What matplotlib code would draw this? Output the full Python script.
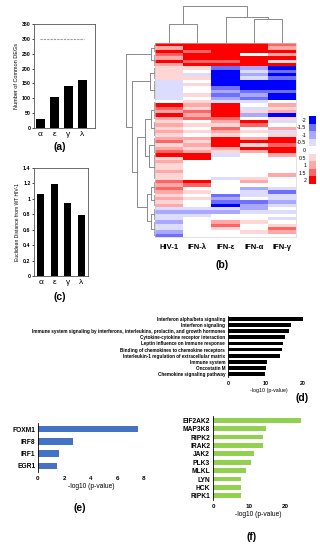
import numpy as np
import matplotlib
matplotlib.use("Agg")
import matplotlib.pyplot as plt
from matplotlib.colors import ListedColormap, BoundaryNorm

plt.rcParams['font.family'] = ['Liberation Sans', 'DejaVu Sans']
plt.rcParams['font.weight'] = 'bold'

# ---- data ----
greek = ['α', 'ε', 'γ', 'λ']
common_degs = [30, 105, 142, 163]
degs_total = 300
eucl_dist = [1.06, 1.19, 0.95, 0.79]

hm_cols = ['HIV-1', 'IFN-λ', 'IFN-ε', 'IFN-α', 'IFN-γ']
# z-scores, rows top to bottom
hm_vals = np.array([
    [2, 2, 2, 2, 1.5], [1, 2, 2, 2, 1], [2, 1.5, 2, 2, 2], [1.5, 2, 2, 0, 1],
    [1, 2, 2, 2, 2], [2, 1.5, 1.5, 2, 0.5], [1, 2, 2, 2, 2],
    [0.5, 0.5, -1.5, -1, -2], [0.5, 0, -2, -0.5, -1.5], [0.5, -0.5, -2, -1, -2],
    [0.5, 0.5, -2, -0.5, -1.5], [-0.5, 0, -2, -2, -2], [-0.5, 0.5, -2, -2, -2],
    [-0.5, 0, -1.5, -2, -2], [-0.5, 0, -1, -1.5, -1.5], [-0.5, 0.5, -1.5, -1, -2],
    [-0.5, 0, -1, -1.5, -2],
    [0, 0.5, -0.5, -0.5, 0], [2, 1, 2, 0, 1], [1.5, 0.5, 2, -0.5, 0.5],
    [1, 1.5, 2, 0.5, 1], [2, 1, 2, -1, -2], [1, 1.5, 1.5, 0, 0.5],
    [0.5, 0, 1, 2, -0.5], [1, 0.5, 0.5, 1.5, 0], [0.5, 0, 1.5, 0, 1],
    [1, 0.5, 1, 0.5, -0.5], [0.5, 0, 0.5, 0, 0.5],
    [1, 1, 2, 1, 2], [1.5, 0.5, 2, 2, 2], [0.5, 1, 2, 0.5, 1.5],
    [1, 0.5, 1, 2, 2], [1.5, 1, 0.5, 1, 2],
    [2, 2, -0.5, 0, 1], [0.5, 2, 0, 0, 0], [1, 0, 0, 0, 0], [0.5, 0, 0, 0, 0],
    [0.5, 0, 0, 0, 0], [1, 0, 0, 0, 0], [0.5, 0, 0, 0, 1], [0.5, 0, -0.5, 0.5, 0],
    [1.5, 2, 0, 1, 0], [1, 1.5, 0, 0, 0], [1.5, 0, 0, -1, -0.5],
    [1, 0.5, 0, -0.5, -1.5], [0.5, 0, -1.5, -0.5, -0.5], [1, 0.5, -1, 0, -0.5],
    [0.5, 0, -1.5, -1.5, -1], [1, 0, -2, -1, -0.5],
    [-0.5, -0.5, -0.5, -1, 0], [-1, -1, -1, -0.5, -0.5], [-0.5, -0.5, 0, 0, 0],
    [-0.5, 0, 0, 0, -0.5], [-1, 0, 1, 0.5, 0], [-0.5, 0, 1.5, 0, 0.5],
    [-0.5, 0, 0.5, 0, 1.5], [-1, 0, 0, 0.5, 1], [-1.5, 0, 0, 0, 0],
])
cbar_levels = [-2, -1.5, -1, -0.5, 0, 0.5, 1, 1.5, 2]
cbar_colors = ['#0000ff', '#6f6fff', '#a8a8ff', '#dcdcff', '#ffffff',
               '#ffd6d6', '#ffa8a8', '#ff6464', '#ff0000']

# dendrograms: (height, left, right); int = column leaf, [a, b] = block of rows
col_tree = (1.0, (0.51, 0, 1), (0.70, 2, (0.65, 3, 4)))
row_tree = (1.0, (0.12, [0, 3], [3, 7]),
            (0.78, (0.18, [7, 11], [11, 17]),
             (0.62, (0.35, (0.15, [17, 23], [23, 28]), (0.2, [28, 33], [33, 41])),
              (0.28, (0.14, [41, 45], [45, 49]), (0.12, [49, 53], [53, 58])))))

pathways = ['Interferon alpha/beta signaling', 'Interferon signaling',
            'Immune system signaling by interferons, interleukins, prolactin, and growth hormones',
            'Cytokine-cytokine receptor interaction', 'Leptin influence on immune response',
            'Binding of chemokines to chemokine receptors',
            'Interleukin-1 regulation of extracellular matrix', 'Immune system',
            'Oncostatin M', 'Chemokine signaling pathway']
pathway_p = [20.2, 16.8, 16.3, 15.2, 14.8, 14.6, 14.0, 10.5, 10.3, 10.0]

tfs = ['FOXM1', 'IRF8', 'IRF1', 'EGR1']
tf_p = [7.55, 2.67, 1.55, 1.43]

kinases = ['EIF2AK2', 'MAP3K8', 'RIPK2', 'IRAK2', 'JAK2', 'PLK3', 'MLKL', 'LYN', 'HCK', 'RIPK1']
kinase_p = [24.5, 14.6, 13.8, 13.8, 11.4, 10.5, 9.1, 7.8, 7.8, 7.8]

W, H = 320, 550
fig = plt.figure(figsize=(3.2, 5.5), dpi=100)


def box(l, t, r, b):
    return [l / W, 1 - b / H, (r - l) / W, (b - t) / H]


def label(x, y, s):
    fig.text(x / W, 1 - y / H, s, ha='center', va='center', fontsize=7.5, fontweight='bold')


# ---- (a) ----
ax = fig.add_axes(box(34, 24, 95, 128))
ax.bar(range(4), common_degs, width=0.62, color='black')
ax.plot([-0.05, 3.15], [degs_total, degs_total], ls=(0, (2, 1)), color='#999999', lw=0.8)
ax.set_xlim(-0.45, 3.9)
ax.set_ylim(0, 350)
ax.set_yticks(range(0, 351, 50))
ax.set_xticks(range(4))
ax.set_xticklabels(greek, fontsize=6, fontweight='normal')
ax.tick_params(axis='y', labelsize=3.8, length=1.5, width=0.5, pad=1)
ax.tick_params(axis='x', length=0, pad=2)
ax.set_ylabel('Number of Common DEGs', fontsize=4, labelpad=2)
for s in ax.spines.values():
    s.set_linewidth(0.6)
    s.set_color('#555555')
label(60, 147, '(a)')

# ---- (c) ----
ax = fig.add_axes(box(34, 168, 88, 276))
ax.bar(range(4), eucl_dist, width=0.55, color='black')
ax.set_xlim(-0.5, 3.5)
ax.set_ylim(0, 1.4)
ax.set_yticks(np.arange(0, 1.41, 0.2))
ax.set_yticklabels(['0', '0.2', '0.4', '0.6', '0.8', '1', '1.2', '1.4'])
ax.set_xticks(range(4))
ax.set_xticklabels(greek, fontsize=6, fontweight='normal')
ax.tick_params(axis='y', labelsize=3.8, length=1.5, width=0.5, pad=1)
ax.tick_params(axis='x', length=0, pad=2)
ax.set_ylabel('Euclidean Distance from WT HIV-1', fontsize=3.6, labelpad=2)
for s in ax.spines.values():
    s.set_linewidth(0.6)
    s.set_color('#555555')
label(60, 297, '(c)')

# ---- (b) heatmap ----
cmap = ListedColormap(cbar_colors)
bounds = np.arange(-2.25, 2.26, 0.5)
norm = BoundaryNorm(bounds, cmap.N)
nrow = hm_vals.shape[0]

ax = fig.add_axes(box(155, 43, 296, 237))
ax.imshow(hm_vals, cmap=cmap, norm=norm, aspect='auto', interpolation='nearest',
          extent=(0, 5, nrow, 0))
ax.set_xticks(np.arange(5) + 0.5)
ax.set_xticklabels(hm_cols, fontsize=5.5)
ax.set_yticks([])
ax.tick_params(axis='x', length=0, pad=5)
for s in ax.spines.values():
    s.set_linewidth(0.4)
    s.set_color('#cccccc')
label(222, 265, '(b)')

dcol = '#8a8a8a'


def draw_tree(a, node, vertical):
    # returns (position, height)
    if isinstance(node, int):
        return node + 0.5, 0.0
    if isinstance(node, list):
        lo, hi = node
        hl = 0.05
        for r in range(lo, hi):
            a.plot([0, hl], [r + 0.5, r + 0.5], color=dcol, lw=0.4)
        a.plot([hl, hl], [lo + 0.5, hi - 0.5], color=dcol, lw=0.5)
        return (lo + hi) / 2, hl
    h, left, right = node
    p1, h1 = draw_tree(a, left, vertical)
    p2, h2 = draw_tree(a, right, vertical)
    xs = [p1, p1, p2, p2]
    ys = [h1, h, h, h2]
    if vertical:
        a.plot(xs, ys, color=dcol, lw=0.7)
    else:
        a.plot(ys, xs, color=dcol, lw=0.7)
    return (p1 + p2) / 2, h


ax = fig.add_axes(box(155, 5, 296, 43))
draw_tree(ax, col_tree, True)
ax.set_xlim(0, 5)
ax.set_ylim(0, 1.02)
ax.axis('off')

ax = fig.add_axes(box(125, 43, 155, 237))
draw_tree(ax, row_tree, False)
ax.set_xlim(1.02, 0)
ax.set_ylim(nrow, 0)
ax.axis('off')

# colorbar
ax = fig.add_axes(box(309, 116, 316, 184))
ax.imshow(np.array(cbar_levels).reshape(-1, 1), cmap=cmap, norm=norm, aspect='auto',
          extent=(0, 1, len(cbar_levels), 0))
ax.set_xticks([])
ax.set_yticks(np.arange(len(cbar_levels)) + 0.5)
ax.set_yticklabels([('%g' % v) for v in cbar_levels], fontsize=3.8, fontweight='normal')
ax.tick_params(axis='y', length=0, pad=2)
for s in ax.spines.values():
    s.set_visible(False)

# ---- (d) ----
ax = fig.add_axes(box(228, 316, 310, 377))
y = np.arange(len(pathways))
ax.barh(y, pathway_p, height=0.62, color='black')
ax.set_ylim(len(pathways) - 0.5, -0.5)
ax.set_xlim(0, 22)
ax.set_yticks(y)
ax.set_yticklabels(pathways, fontsize=3.3)
ax.set_xticks([0, 10, 20])
ax.tick_params(axis='x', labelsize=3.8, length=0, pad=3)
ax.tick_params(axis='y', length=0, pad=2)
ax.set_xlabel('-log10 (p-value)', fontsize=3.8, labelpad=1)
for k in ['top', 'right', 'bottom']:
    ax.spines[k].set_visible(False)
ax.spines['left'].set_linewidth(0.6)
label(302, 398, '(d)')

# ---- (e) ----
ax = fig.add_axes(box(38, 423, 144, 472))
y = np.arange(len(tfs))
ax.barh(y, tf_p, height=0.55, color='#4472c4')
ax.set_ylim(len(tfs) - 0.5, -0.5)
ax.set_xlim(0, 8)
ax.set_yticks(y)
ax.set_yticklabels(tfs, fontsize=4.8)
ax.set_xticks(range(0, 9, 2))
ax.tick_params(axis='x', labelsize=4.5, length=0, pad=3)
ax.tick_params(axis='y', length=0, pad=2)
ax.set_xlabel('-log10 (p-value)', fontsize=4.8, labelpad=1.5)
for k in ['top', 'right', 'bottom']:
    ax.spines[k].set_visible(False)
ax.spines['left'].set_linewidth(0.6)
label(80, 508, '(e)')

# ---- (f) ----
ax = fig.add_axes(box(213, 416, 303, 500))
y = np.arange(len(kinases))
ax.barh(y, kinase_p, height=0.55, color='#92d050')
ax.set_ylim(len(kinases) - 0.5, -0.5)
ax.set_xlim(0, 25)
ax.set_yticks(y)
ax.set_yticklabels(kinases, fontsize=4.8)
ax.set_xticks([0, 10, 20])
ax.tick_params(axis='x', labelsize=4.5, length=0, pad=3)
ax.tick_params(axis='y', length=0, pad=2)
ax.set_xlabel('-log10 (p-value)', fontsize=4.8, labelpad=1.5)
for k in ['top', 'right', 'bottom']:
    ax.spines[k].set_visible(False)
ax.spines['left'].set_linewidth(0.6)
label(252, 537, '(f)')

fig.savefig('out.png', dpi=100)
